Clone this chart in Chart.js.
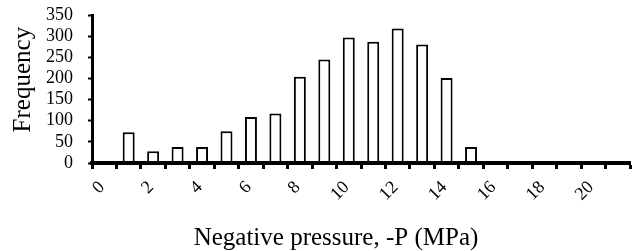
<!DOCTYPE html>
<html>
<head>
<meta charset="utf-8">
<script src="https://cdn.jsdelivr.net/npm/chart.js@4.4.1/dist/chart.umd.min.js"></script>
<style>
  html, body { margin: 0; padding: 0; background: #fff; }
  #wrap { width: 635px; height: 251px; }
</style>
</head>
<body>
<div id="wrap"><canvas id="hist"></canvas></div>
<script>
// ---------------- DATA ----------------

// histogram bins (MPa), each bin is [start, start + 1)
const binStarts = [0, 1, 2, 3, 4, 5, 6, 7, 8, 9, 10, 11, 12, 13, 14, 15, 16, 17, 18, 19, 20, 21];
const frequency = [0, 73, 28, 38, 38, 75, 109, 117, 204, 245, 297, 287, 318, 280, 201, 38, 0, 0, 0, 0, 0, 0];

// x tick labels shown on the axis (every other tick is left blank)
const xTickLabels = [0, 2, 4, 6, 8, 10, 12, 14, 16, 18, 20];
const yTicks = [0, 50, 100, 150, 200, 250, 300, 350];

const serif = 'Liberation Serif, Times New Roman, serif';

// -------- CHART --------

const points = binStarts.map((b, i) => ({ x: b + 0.5, y: frequency[i] }));

new Chart(document.getElementById('hist'), {
  type: 'bar',
  data: {
    datasets: [{
      data: points,
      backgroundColor: '#fff',
      borderColor: '#000',
      borderWidth: 2,
      borderSkipped: 'bottom',
      barPercentage: 0.49,
      categoryPercentage: 1
    }]
  },
  options: {
    responsive: true,
    maintainAspectRatio: false,
    animation: false,
    layout: { padding: { top: 15, right: 5, bottom: 0, left: 0 } },
    plugins: { legend: { display: false }, tooltip: { enabled: false } },
    scales: {
      x: {
        type: 'linear',
        min: 0,
        max: 22,
        offset: false,
        afterFit: s => { s.height = 88; s.paddingLeft = 0; s.paddingRight = 0; },
        border: { display: true, color: '#000', width: 4, z: 2 },
        grid: {
          offset: false,
          z: 1,
          drawOnChartArea: false,
          drawTicks: true,
          tickLength: 6,
          tickWidth: 3,
          tickColor: '#000'
        },
        ticks: {
          stepSize: 1,
          autoSkip: false,
          minRotation: 45,
          maxRotation: 45,
          labelOffset: 10,
          padding: 8,
          color: '#000',
          font: { family: serif, size: 18 },
          callback: v => xTickLabels.includes(v) ? String(v) : ''
        },
        title: {
          display: true,
          // trailing spaces nudge the centred title left, as in the original figure
          text: 'Negative pressure, -P (MPa)        ',
          color: '#000',
          font: { family: serif, size: 25, lineHeight: 1 },
          padding: { top: 0, bottom: 0 }
        }
      },
      y: {
        min: 0,
        max: 350,
        afterFit: s => { s.width = 92; s.paddingTop = 0; s.paddingBottom = 0; },
        border: { display: true, color: '#000', width: 3, z: 2 },
        grid: {
          z: 1,
          drawOnChartArea: false,
          drawTicks: true,
          tickLength: 4,
          tickWidth: 2,
          tickColor: '#000'
        },
        afterBuildTicks: s => { s.ticks = yTicks.map(v => ({ value: v })); },
        ticks: {
          autoSkip: false,
          padding: 15,
          color: '#000',
          font: { family: serif, size: 18 }
        },
        title: {
          display: true,
          // leading spaces lift the rotated title a little
          text: '   Frequency',
          color: '#000',
          font: { family: serif, size: 25 },
          padding: { top: 8, bottom: 0 }
        }
      }
    }
  }
});
</script>
</body>
</html>
